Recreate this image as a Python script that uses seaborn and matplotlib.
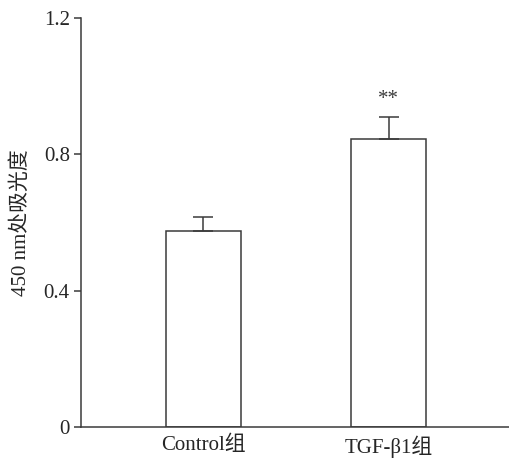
import pandas as pd
import matplotlib.pyplot as plt
import seaborn as sns

# 数据
groups = ['Control组', 'TGF-β1组']
means = [0.575, 0.845]
errs = [0.04, 0.065]
signif = ['', '**']

df = pd.DataFrame({'group': groups, 'od': means})

sns.set_style('ticks')
plt.rcParams['font.family'] = ['Liberation Serif', 'Noto Sans CJK SC']
plt.rcParams['axes.unicode_minus'] = False

fig = plt.figure(figsize=(5.09, 4.59), dpi=100)
ax = fig.add_axes([0.159, 0.0697, 0.841, 0.8913])

line_c = '#3a3a3a'
sns.barplot(data=df, x='group', y='od', ax=ax, width=0.405,
            color='white', edgecolor=line_c, linewidth=1.1, errorbar=None)

# 只画上方误差线
ax.errorbar(range(len(groups)), means, yerr=[[0] * len(errs), errs],
            fmt='none', ecolor=line_c, elinewidth=1.1, capsize=7.5, capthick=1.1)

for i, s in enumerate(signif):
    if s:
        ax.text(i, means[i] + errs[i] + 0.05, s, ha='center', va='center',
                fontsize=15, color=line_c)

ax.set_ylim(0, 1.2)
ax.set_xlim(-0.662, 1.651)
ax.set_yticks([0, 0.4, 0.8, 1.2])
ax.set_yticklabels(['0', '0.4', '0.8', '1.2'])
ax.set_ylabel('450 nm处吸光度', fontsize=15, labelpad=9)
ax.set_xlabel('')
ax.tick_params(axis='y', length=5, width=1.1, color=line_c, labelsize=15, pad=3)
ax.tick_params(axis='x', length=0, labelsize=15, pad=6)
sns.despine(ax=ax, top=True, right=True)
for sp in ['left', 'bottom']:
    ax.spines[sp].set_color(line_c)
    ax.spines[sp].set_linewidth(1.1)

fig.savefig('out.png', dpi=100)
